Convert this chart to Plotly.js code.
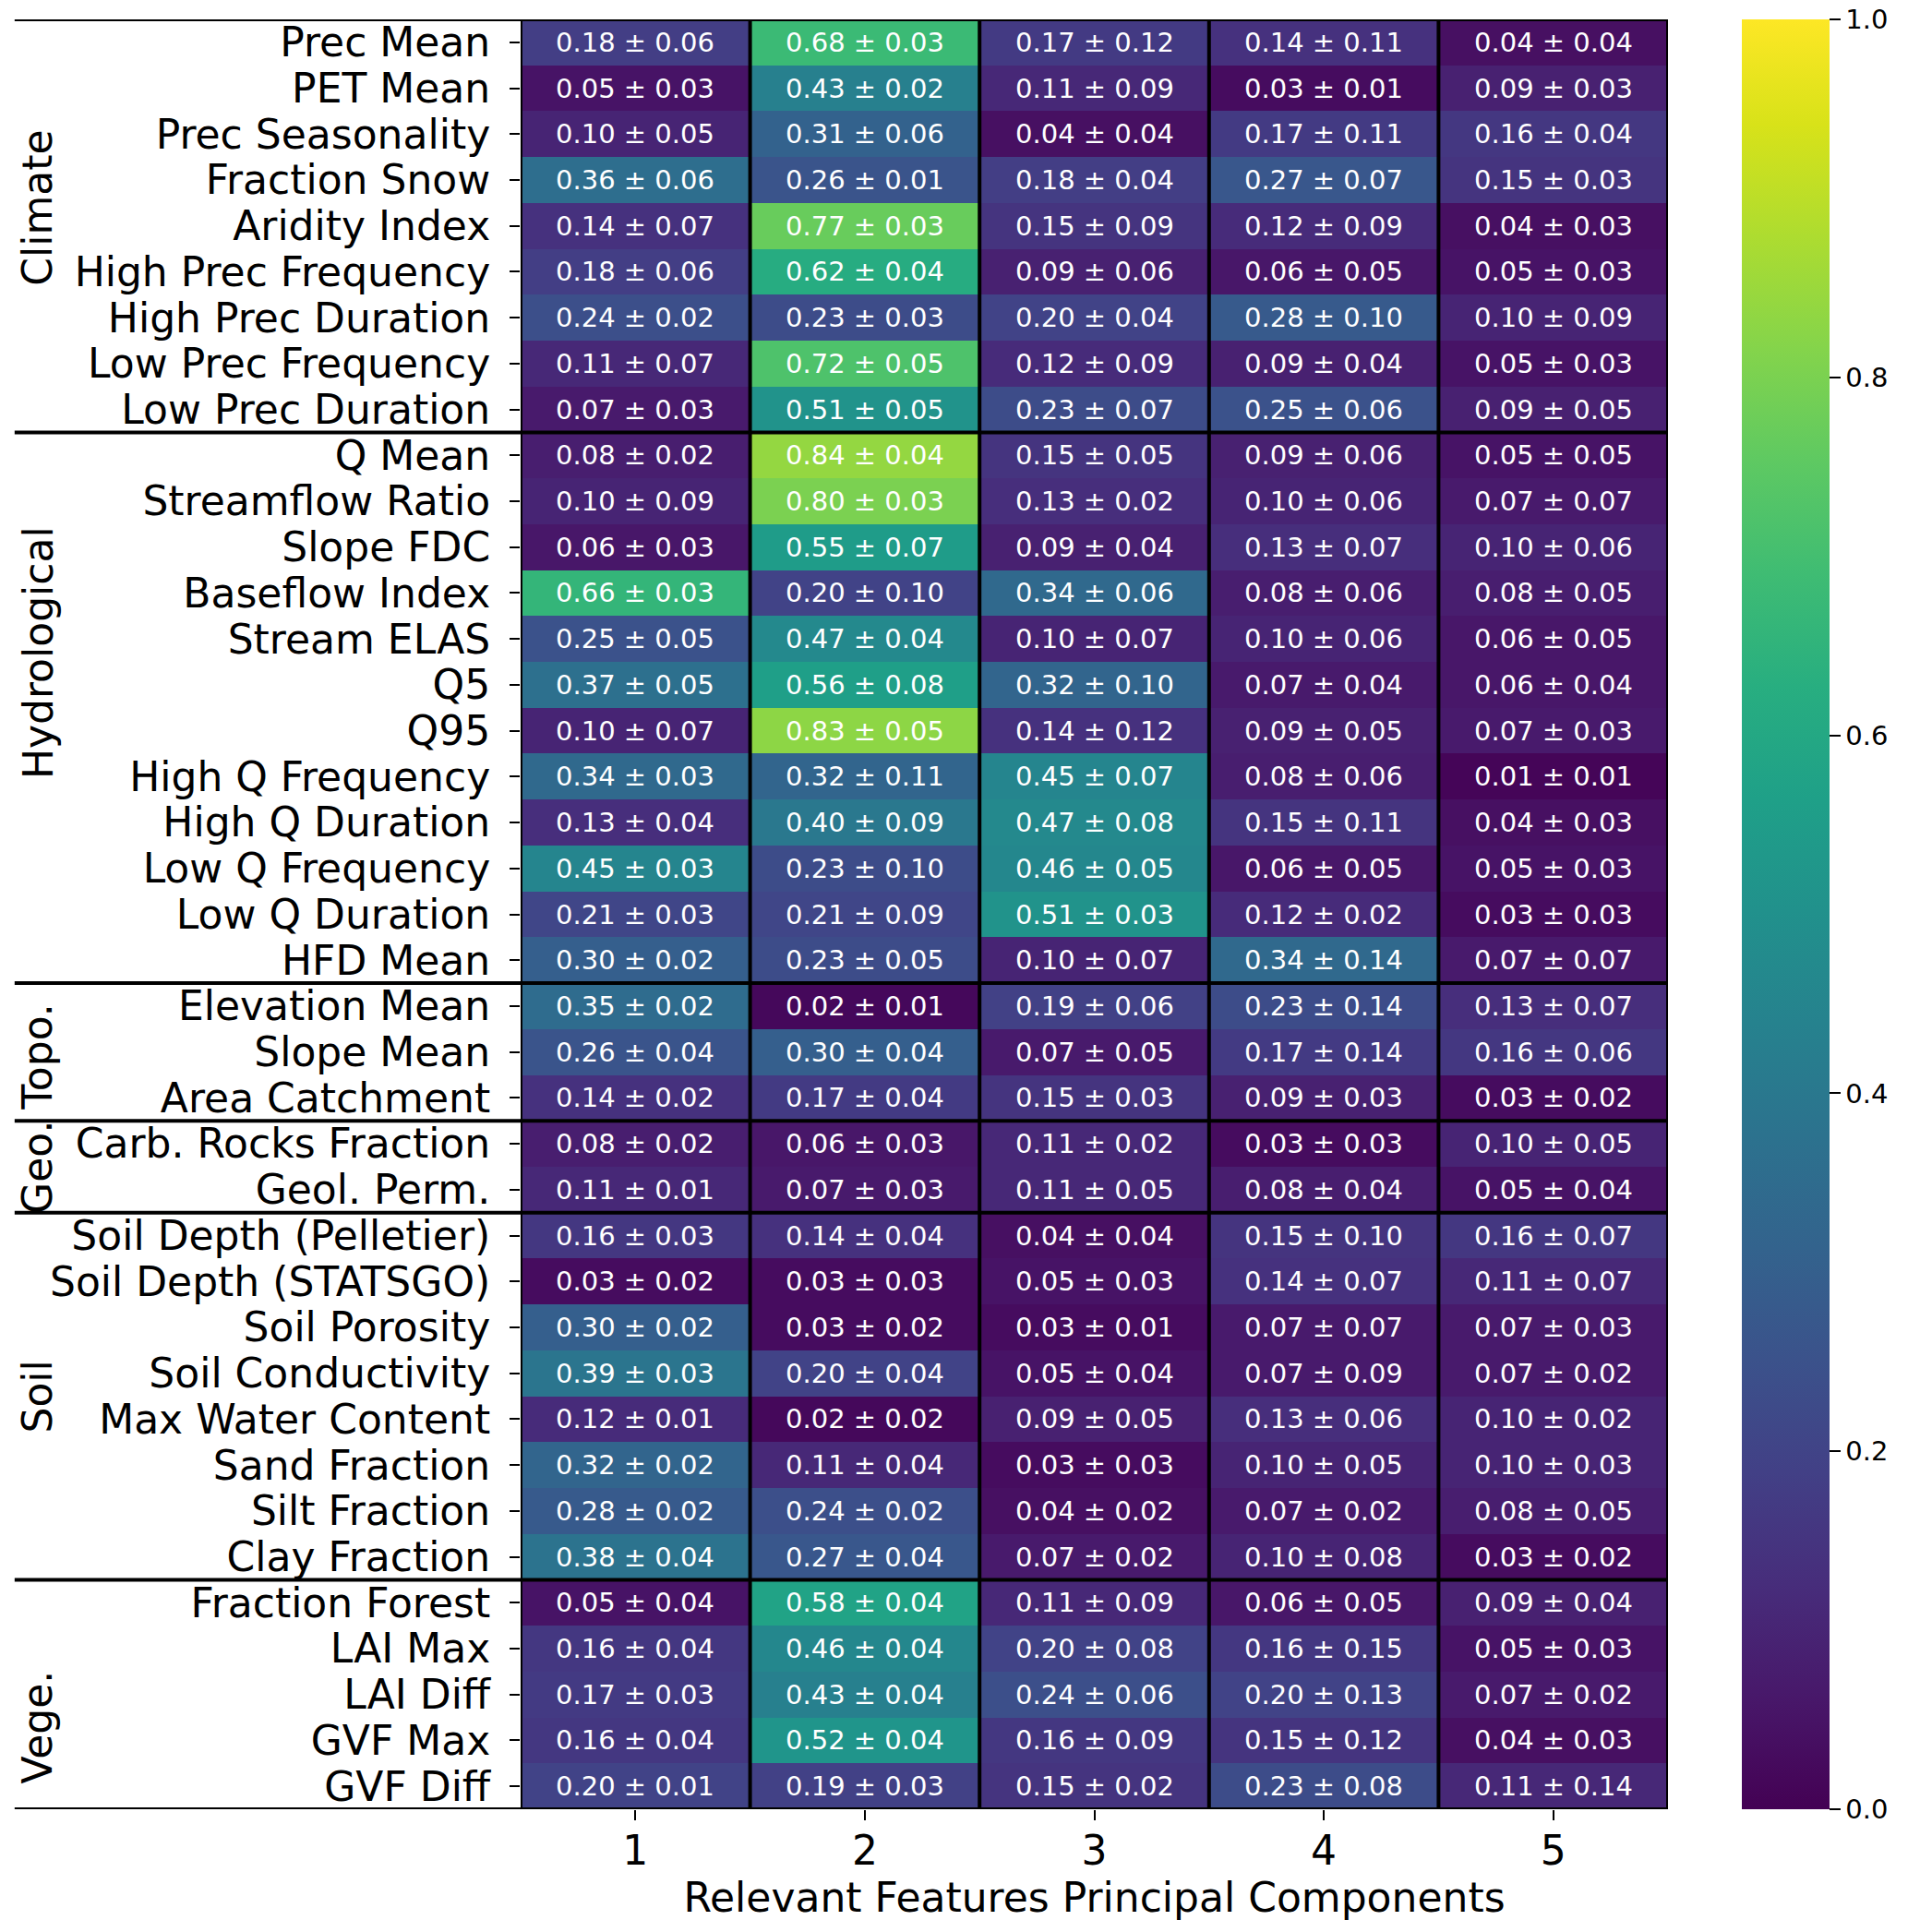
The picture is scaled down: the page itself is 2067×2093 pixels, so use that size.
<!DOCTYPE html>
<html>
<head>
<meta charset="utf-8">
<script src="https://cdn.plot.ly/plotly-3.0.1.min.js"></script>
<style>html,body{margin:0;padding:0;background:#fff;}#chart{width:2067px;height:2093px;}</style>
</head>
<body>
<div id="chart"></div>
<script>
// ---- data ----
const components = [1, 2, 3, 4, 5];
const features = [
  "Prec Mean","PET Mean","Prec Seasonality","Fraction Snow","Aridity Index",
  "High Prec Frequency","High Prec Duration","Low Prec Frequency","Low Prec Duration",
  "Q Mean","Streamflow Ratio","Slope FDC","Baseflow Index","Stream ELAS","Q5","Q95",
  "High Q Frequency","High Q Duration","Low Q Frequency","Low Q Duration","HFD Mean",
  "Elevation Mean","Slope Mean","Area Catchment",
  "Carb. Rocks Fraction","Geol. Perm.",
  "Soil Depth (Pelletier)","Soil Depth (STATSGO)","Soil Porosity","Soil Conductivity",
  "Max Water Content","Sand Fraction","Silt Fraction","Clay Fraction",
  "Fraction Forest","LAI Max","LAI Diff","GVF Max","GVF Diff"
];
const groupNames = ["Climate","Hydrological","Topo.","Geo.","Soil","Vege."];
const groupSizes = [9, 12, 3, 2, 8, 5];
const groupLabelRow = [3.6, 13.3, 22.1, 24.5, 29.5, 36.7];

const meanVals = [
  [0.18,0.68,0.17,0.14,0.04],
  [0.05,0.43,0.11,0.03,0.09],
  [0.10,0.31,0.04,0.17,0.16],
  [0.36,0.26,0.18,0.27,0.15],
  [0.14,0.77,0.15,0.12,0.04],
  [0.18,0.62,0.09,0.06,0.05],
  [0.24,0.23,0.20,0.28,0.10],
  [0.11,0.72,0.12,0.09,0.05],
  [0.07,0.51,0.23,0.25,0.09],
  [0.08,0.84,0.15,0.09,0.05],
  [0.10,0.80,0.13,0.10,0.07],
  [0.06,0.55,0.09,0.13,0.10],
  [0.66,0.20,0.34,0.08,0.08],
  [0.25,0.47,0.10,0.10,0.06],
  [0.37,0.56,0.32,0.07,0.06],
  [0.10,0.83,0.14,0.09,0.07],
  [0.34,0.32,0.45,0.08,0.01],
  [0.13,0.40,0.47,0.15,0.04],
  [0.45,0.23,0.46,0.06,0.05],
  [0.21,0.21,0.51,0.12,0.03],
  [0.30,0.23,0.10,0.34,0.07],
  [0.35,0.02,0.19,0.23,0.13],
  [0.26,0.30,0.07,0.17,0.16],
  [0.14,0.17,0.15,0.09,0.03],
  [0.08,0.06,0.11,0.03,0.10],
  [0.11,0.07,0.11,0.08,0.05],
  [0.16,0.14,0.04,0.15,0.16],
  [0.03,0.03,0.05,0.14,0.11],
  [0.30,0.03,0.03,0.07,0.07],
  [0.39,0.20,0.05,0.07,0.07],
  [0.12,0.02,0.09,0.13,0.10],
  [0.32,0.11,0.03,0.10,0.10],
  [0.28,0.24,0.04,0.07,0.08],
  [0.38,0.27,0.07,0.10,0.03],
  [0.05,0.58,0.11,0.06,0.09],
  [0.16,0.46,0.20,0.16,0.05],
  [0.17,0.43,0.24,0.20,0.07],
  [0.16,0.52,0.16,0.15,0.04],
  [0.20,0.19,0.15,0.23,0.11]
];
const stdVals = [
  [0.06,0.03,0.12,0.11,0.04],
  [0.03,0.02,0.09,0.01,0.03],
  [0.05,0.06,0.04,0.11,0.04],
  [0.06,0.01,0.04,0.07,0.03],
  [0.07,0.03,0.09,0.09,0.03],
  [0.06,0.04,0.06,0.05,0.03],
  [0.02,0.03,0.04,0.10,0.09],
  [0.07,0.05,0.09,0.04,0.03],
  [0.03,0.05,0.07,0.06,0.05],
  [0.02,0.04,0.05,0.06,0.05],
  [0.09,0.03,0.02,0.06,0.07],
  [0.03,0.07,0.04,0.07,0.06],
  [0.03,0.10,0.06,0.06,0.05],
  [0.05,0.04,0.07,0.06,0.05],
  [0.05,0.08,0.10,0.04,0.04],
  [0.07,0.05,0.12,0.05,0.03],
  [0.03,0.11,0.07,0.06,0.01],
  [0.04,0.09,0.08,0.11,0.03],
  [0.03,0.10,0.05,0.05,0.03],
  [0.03,0.09,0.03,0.02,0.03],
  [0.02,0.05,0.07,0.14,0.07],
  [0.02,0.01,0.06,0.14,0.07],
  [0.04,0.04,0.05,0.14,0.06],
  [0.02,0.04,0.03,0.03,0.02],
  [0.02,0.03,0.02,0.03,0.05],
  [0.01,0.03,0.05,0.04,0.04],
  [0.03,0.04,0.04,0.10,0.07],
  [0.02,0.03,0.03,0.07,0.07],
  [0.02,0.02,0.01,0.07,0.03],
  [0.03,0.04,0.04,0.09,0.02],
  [0.01,0.02,0.05,0.06,0.02],
  [0.02,0.04,0.03,0.05,0.03],
  [0.02,0.02,0.02,0.02,0.05],
  [0.04,0.04,0.02,0.08,0.02],
  [0.04,0.04,0.09,0.05,0.04],
  [0.04,0.04,0.08,0.15,0.03],
  [0.03,0.04,0.06,0.13,0.02],
  [0.04,0.04,0.09,0.12,0.03],
  [0.01,0.03,0.02,0.08,0.14]
];

// ---- build ----
const FONT = "DejaVu Sans";
const cellText = meanVals.map((row, i) => row.map((m, j) => m.toFixed(2) + " \u00b1 " + stdVals[i][j].toFixed(2)));

const nRows = features.length;
const shapes = [];
// vertical column lines (incl. borders)
for (let k = 0; k <= components.length; k++) {
  shapes.push({type:"line", xref:"x", yref:"y", x0:k+0.5, x1:k+0.5, y0:-0.5, y1:nRows-0.5,
    line:{color:"black", width:4}});
}
// horizontal group lines
let acc = 0;
const bounds = [-0.5];
groupSizes.forEach(s => { acc += s; bounds.push(acc - 0.5); });
bounds.forEach(b => {
  shapes.push({type:"line", xref:"paper", yref:"y", x0:-0.441, x1:1.0, y0:b, y1:b,
    line:{color:"black", width:4}});
});

const annotations = groupNames.map((g, k) => ({
  text: g, xref:"paper", yref:"y", x:-0.4208, y: groupLabelRow[k],
  textangle:-90, showarrow:false, xanchor:"center", yanchor:"middle",
  font:{family:FONT, size:44, color:"black"}
}));

const trace = {
  type:"heatmap",
  x: components,
  y: features,
  z: meanVals,
  text: cellText,
  texttemplate: "%{text}",
  textfont: {family:FONT, size:29, color:"white"},
  colorscale: "Viridis",
  zmin: 0, zmax: 1,
  hoverinfo: "skip",
  colorbar: {
    thickness: 95, thicknessmode:"pixels",
    len: 1, lenmode:"fraction",
    x: 1.0644, xanchor:"left", xpad:0,
    y: 0.5, yanchor:"middle", ypad:0,
    outlinewidth: 0,
    tick0: 0, dtick: 0.2, tickformat: ".1f",
    ticks: "outside", ticklen: 12, tickwidth: 2, tickcolor:"black",
    tickfont: {family:FONT, size:29, color:"black"}
  }
};

const layout = {
  width: 2067, height: 2093,
  margin: {l:564, r:260, t:21, b:133, pad:0},
  paper_bgcolor:"white", plot_bgcolor:"white",
  font: {family:FONT, color:"black"},
  xaxis: {
    range:[0.5, 5.5], tickmode:"array", tickvals: components, ticktext: components.map(String),
    ticks:"outside", ticklen:11, tickwidth:2, tickcolor:"black",
    tickfont:{family:FONT, size:44, color:"black"},
    ticklabelstandoff: -5,
    showgrid:false, zeroline:false, showline:false,
    title:{text:"Relevant Features Principal Components", font:{family:FONT, size:44, color:"black"}, standoff:4}
  },
  yaxis: {
    type:"category", range:[nRows-0.5, -0.5],
    tickmode:"array", tickvals: features, ticktext: features,
    ticks:"outside", ticklen:11, tickwidth:2, tickcolor:"black",
    tickfont:{family:FONT, size:44, color:"black"},
    ticklabelstandoff: 12,
    showgrid:false, zeroline:false, showline:false
  },
  shapes: shapes,
  annotations: annotations
};

Plotly.newPlot("chart", [trace], layout, {staticPlot:true, displayModeBar:false});
</script>
</body>
</html>
